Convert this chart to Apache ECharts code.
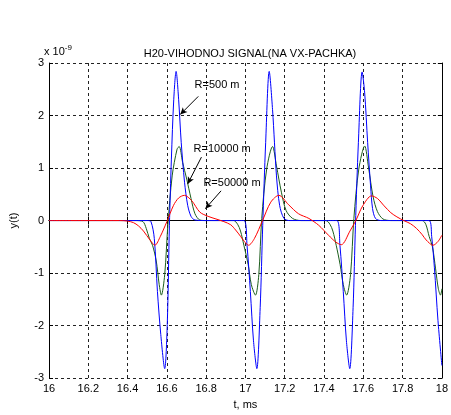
<!DOCTYPE html>
<html>
<head>
<meta charset="utf-8">
<script src="https://cdn.jsdelivr.net/npm/echarts@6/dist/echarts.min.js"></script>
<style>
  html, body { margin: 0; padding: 0; background: #fff; }
  #chart { width: 451px; height: 415px; }
</style>
</head>
<body>
<div id="chart"></div>
<script>
// time in ms, value in units of 1e-9
const r500 = [
  [16.0, 0], [16.3, 0], [16.5, 0], [16.519, -0.02], [16.536, -0.34], [16.552, -1.35], [16.569, -2.17],
  [16.589, -2.82], [16.602, -1.98], [16.613, -0.09], [16.623, 1.17], [16.635, 2.3], [16.647, 2.84],
  [16.66, 2.3], [16.673, 1.49], [16.69, 0.73], [16.706, 0.29], [16.723, 0.08], [16.743, 0.01],
  [16.8, 0], [16.9, 0], [16.992, 0], [17.008, -0.47], [17.025, -1.35], [17.041, -2.29], [17.058, -2.82],
  [17.075, -1.66], [17.088, -0.09], [17.103, 1.49], [17.121, 2.84], [17.138, 2.11], [17.158, 0.85],
  [17.174, 0.29], [17.196, 0.04], [17.224, 0], [17.3, 0], [17.4, 0], [17.465, 0], [17.481, -0.47],
  [17.498, -1.35], [17.514, -2.29], [17.531, -2.82], [17.548, -1.66], [17.56, -0.09], [17.575, 1.49],
  [17.594, 2.83], [17.607, 2.43], [17.622, 1.49], [17.637, 0.66], [17.647, 0.23], [17.662, 0.04],
  [17.69, 0], [17.8, 0], [17.935, 0], [17.948, -0.3], [17.962, -0.9], [17.98, -1.9], [18.0, -2.76]
];

const r10000 = [
  [16.0, 0], [16.3, 0], [16.44, 0], [16.478, -0.02], [16.495, -0.15], [16.511, -0.34], [16.527, -0.47],
  [16.546, -0.77], [16.561, -1.22], [16.572, -1.42], [16.589, -1.03], [16.605, -0.09], [16.627, 0.85],
  [16.652, 1.36], [16.663, 1.41], [16.68, 1.11], [16.701, 0.79], [16.723, 0.42], [16.743, 0.13],
  [16.768, 0.01], [16.801, 0], [16.9, 0], [16.94, 0], [16.96, -0.07], [16.975, -0.2], [16.992, -0.47],
  [17.014, -0.84], [17.03, -1.22], [17.051, -1.42], [17.068, -1.03], [17.083, 0.04], [17.108, 0.98],
  [17.138, 1.41], [17.158, 1.04], [17.183, 0.54], [17.207, 0.19], [17.24, 0.04], [17.282, 0],
  [17.35, 0], [17.41, 0], [17.43, -0.07], [17.445, -0.2], [17.462, -0.47], [17.482, -0.84],
  [17.498, -1.22], [17.515, -1.42], [17.535, -1.03], [17.552, 0.04], [17.577, 0.98], [17.607, 1.42],
  [17.627, 1.0], [17.65, 0.45], [17.672, 0.17], [17.7, 0.03], [17.74, 0], [17.82, 0], [17.9, 0],
  [17.918, -0.07], [17.935, -0.3], [17.952, -0.5], [17.968, -0.92], [17.982, -1.3], [17.993, -1.42],
  [18.0, -1.3]
];

const r50000 = [
  [16.0, 0], [16.2, 0], [16.36, 0], [16.4, -0.01], [16.43, -0.04], [16.455, -0.1], [16.481, -0.2],
  [16.514, -0.37], [16.539, -0.47], [16.567, -0.3], [16.6, -0.02], [16.634, 0.29], [16.66, 0.43],
  [16.689, 0.48], [16.726, 0.38], [16.768, 0.16], [16.81, 0.08], [16.85, 0.03], [16.89, -0.02],
  [16.925, -0.08], [16.95, -0.18], [16.975, -0.3], [16.995, -0.4], [17.016, -0.47], [17.046, -0.34],
  [17.087, 0], [17.129, 0.35], [17.17, 0.48], [17.22, 0.3], [17.27, 0.13], [17.323, 0.04],
  [17.373, -0.09], [17.423, -0.28], [17.46, -0.41], [17.488, -0.46], [17.532, -0.2], [17.562, 0],
  [17.597, 0.28], [17.642, 0.47], [17.672, 0.42], [17.706, 0.28], [17.74, 0.15], [17.771, 0.07],
  [17.806, 0], [17.84, -0.06], [17.871, -0.15], [17.9, -0.27], [17.92, -0.37], [17.955, -0.47],
  [17.98, -0.4], [18.0, -0.28]
];

// annotation text anchors and arrows (data coords)
const labels = [
  { name: 'R=500 m', at: [16.741, 2.585], from: [16.760, 2.364], to: [16.668, 2.019] },
  { name: 'R=10000 m', at: [16.736, 1.358], from: [16.776, 1.208], to: [16.706, 0.698] },
  { name: 'R=50000 m', at: [16.786, 0.717], from: [16.876, 0.566], to: [16.796, 0.226] }
];

const font = 'Arial, "Liberation Sans", sans-serif';
const chart = echarts.init(document.getElementById('chart'), null, { renderer: 'canvas' });

const baseX = {
  type: 'value', min: 16, max: 18, interval: 0.2,
  axisLine: { lineStyle: { color: '#000', width: 1 } },
  axisTick: { inside: true, length: 4, lineStyle: { color: '#000' } }
};
const baseY = {
  type: 'value', min: -3, max: 3, interval: 1,
  axisLine: { show: true, lineStyle: { color: '#000', width: 1 } },
  axisTick: { show: true, inside: true, length: 4, lineStyle: { color: '#000' } }
};
const dashed = { show: true, lineStyle: { color: '#222', width: 1, type: [3, 3] } };

chart.setOption({
  backgroundColor: '#fff',
  animation: false,
  title: {
    text: 'H20-VIHODNOJ SIGNAL(NA VX-PACHKA)',
    left: 245, top: 43, textAlign: 'center',
    textStyle: { fontFamily: font, fontSize: 11, fontWeight: 'normal', color: '#000' }
  },
  grid: { left: 44, right: 5, top: 63, bottom: 34, show: false },
  xAxis: [
    Object.assign({}, baseX, {
      position: 'bottom',
      name: 't, ms', nameLocation: 'middle', nameGap: 20,
      nameTextStyle: { fontFamily: font, fontSize: 11, color: '#000' },
      axisLabel: { fontFamily: font, fontSize: 11, color: '#000', margin: 5 },
      splitLine: dashed
    }),
    Object.assign({}, baseX, {
      position: 'top', axisLabel: { show: false }, splitLine: { show: false }
    })
  ],
  yAxis: [
    Object.assign({}, baseY, {
      position: 'left',
      name: 'y(t)', nameLocation: 'middle', nameGap: 30,
      nameTextStyle: { fontFamily: font, fontSize: 11, color: '#000' },
      axisLabel: { fontFamily: font, fontSize: 11, color: '#000', margin: 5 },
      splitLine: dashed
    }),
    Object.assign({}, baseY, {
      position: 'right', axisLabel: { show: false }, splitLine: { show: false }
    })
  ],
  graphic: [{
    type: 'text', left: 44, top: 44,
    style: {
      text: 'x 10{s|-9}',
      font: '11px ' + font, fill: '#000',
      rich: { s: { fontSize: 8, fontFamily: font, verticalAlign: 'top', padding: [0, 0, 7, 0] } }
    }
  }],
  series: [
    {
      name: 'R=10000 m', type: 'line', data: r10000, showSymbol: false, smooth: 0.3,
      lineStyle: { color: '#1b5e1b', width: 1 }, z: 2
    },
    {
      name: 'R=500 m', type: 'line', data: r500, showSymbol: false, smooth: 0.3,
      lineStyle: { color: '#0000ff', width: 1 }, z: 3,
      markLine: {
        silent: true, symbol: ['none', 'arrow'], symbolSize: [5, 7],
        label: { show: false },
        lineStyle: { color: '#000', width: 1, type: 'solid' },
        data: labels.map((l) => [{ coord: l.from }, { coord: l.to }])
      },
      markPoint: {
        silent: true, symbol: 'rect', symbolSize: 0,
        label: {
          show: true, position: [0, 0], align: 'left', verticalAlign: 'middle',
          formatter: '{b}', fontFamily: font, fontSize: 11, color: '#000'
        },
        data: labels.map((l) => ({ name: l.name, coord: l.at }))
      }
    },
    {
      name: 'R=50000 m', type: 'line', data: r50000, showSymbol: false, smooth: 0.3,
      lineStyle: { color: '#ff0000', width: 1 }, z: 4
    }
  ]
});
</script>
</body>
</html>
